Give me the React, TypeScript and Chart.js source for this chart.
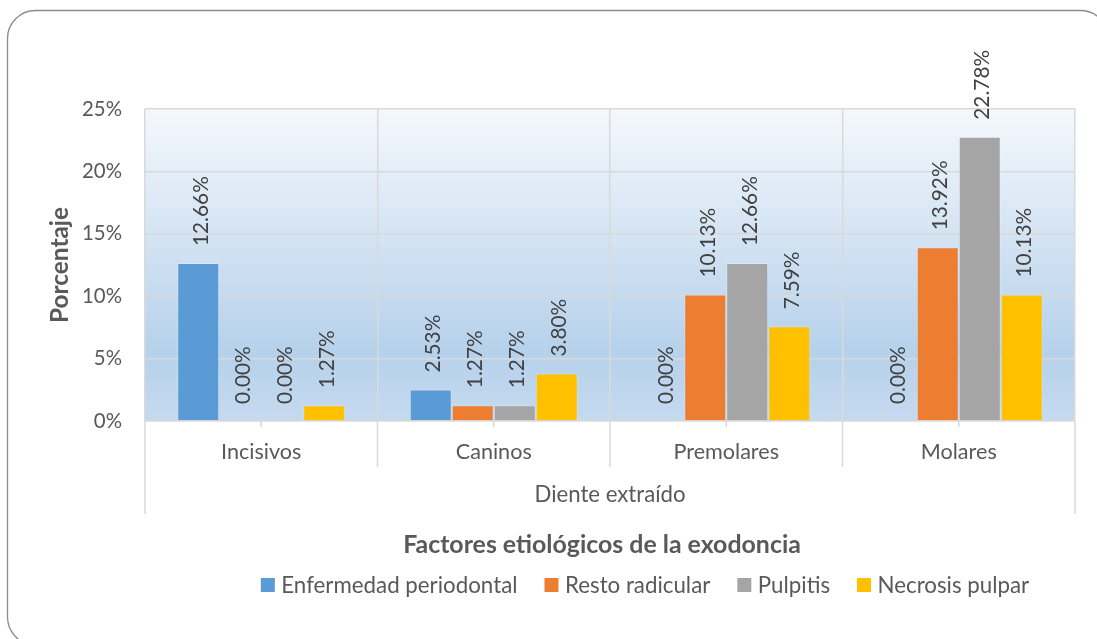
import React, { useEffect, useRef } from 'react';
import { Chart, registerables } from 'chart.js';

Chart.register(...registerables);

const categories = ['Incisivos', 'Caninos', 'Premolares', 'Molares'];
const seriesNames = ['Enfermedad periodontal', 'Resto radicular', 'Pulpitis', 'Necrosis pulpar'];
const enfermedadPeriodontal = [12.66, 2.53, 0.0, 0.0];
const restoRadicular = [0.0, 1.27, 10.13, 13.92];
const pulpitis = [0.0, 1.27, 12.66, 22.78];
const necrosisPulpar = [1.27, 3.8, 7.59, 10.13];
const yTicks = [0, 5, 10, 15, 20, 25];
const seriesColors = ['#5b9bd5', '#ed7d31', '#a5a5a5', '#ffc000'];
const chartTitle = 'Factores etiológicos de la exodoncia';
const xTitle = 'Diente extraído';
const yTitle = 'Porcentaje';

const FONT = 'Lato, "Open Sans", sans-serif';
const TEXT = '#595959';
const GRID = '#d9d9d9';

// font size so that `text` is drawn `target` px wide (reference measured widths)
function fitSize(text: string, target: number, weight = 'normal') {
  const c = document.createElement('canvas').getContext('2d') as CanvasRenderingContext2D;
  c.font = `${weight} 100px ${FONT}`;
  return Math.round(((100 * target) / c.measureText(text).width) * 10) / 10;
}

export default function App() {
  const ref = useRef<HTMLCanvasElement | null>(null);
  useEffect(() => {
    if (!ref.current) return;
    const labelSize = fitSize('12.66%', 70);
    const tickSize = fitSize('25%', 40);
    const catSize = fitSize(categories[0], 80.5);
    const xTitleSize = fitSize(xTitle, 151);
    const legendSize = fitSize(seriesNames[0], 236);
    const titleSize = fitSize(chartTitle, 398, 'bold');
    const yTitleSize = fitSize(yTitle, 116, 'bold');

    const decor = {
      id: 'decor',
      beforeDraw(chart: any) {
        const { ctx, chartArea: a } = chart;
        ctx.save();
        ctx.fillStyle = '#ffffff';
        ctx.fillRect(0, 0, chart.width, chart.height);
        ctx.strokeStyle = '#8c8c8c';
        ctx.lineWidth = 1.3;
        ctx.beginPath();
        ctx.roundRect(7.5, 10.5, 1101, 634.5, 28);
        ctx.stroke();
        const g = ctx.createLinearGradient(0, a.top, 0, a.bottom);
        g.addColorStop(0, '#f4f8fc');
        g.addColorStop(0.78, '#b6d1eb');
        g.addColorStop(1, '#c5daef');
        ctx.fillStyle = g;
        ctx.fillRect(a.left, a.top, a.right - a.left, a.bottom - a.top);
        ctx.restore();
      },
      afterDatasetsDraw(chart: any) {
        const { ctx } = chart;
        ctx.save();
        ctx.font = `${labelSize}px ${FONT}`;
        ctx.fillStyle = '#404040';
        ctx.textAlign = 'left';
        ctx.textBaseline = 'middle';
        chart.data.datasets.forEach((ds: any, di: number) => {
          const meta = chart.getDatasetMeta(di);
          meta.data.forEach((bar: any, i: number) => {
            const v = ds.data[i] as number;
            ctx.save();
            ctx.translate(bar.x + 3, bar.y - 17);
            ctx.rotate(-Math.PI / 2);
            ctx.fillText(v.toFixed(2) + '%', 0, 0);
            ctx.restore();
          });
        });
        ctx.restore();
      },
      afterDraw(chart: any) {
        const { ctx, chartArea: a } = chart;
        const xs = chart.scales.x;
        const n = chart.data.labels.length;
        const w = (xs.right - xs.left) / n;
        ctx.save();
        ctx.strokeStyle = GRID;
        ctx.lineWidth = 1.5;
        for (let i = 0; i <= n; i++) {
          const x = xs.left + i * w;
          const y2 = i === 0 || i === n ? xs.bottom : a.bottom + 46;
          ctx.beginPath();
          ctx.moveTo(x, a.bottom);
          ctx.lineTo(x, y2);
          ctx.stroke();
        }
        for (let i = 0; i < n; i++) {
          const x = xs.left + (i + 0.5) * w;
          ctx.beginPath();
          ctx.moveTo(x, a.bottom);
          ctx.lineTo(x, a.bottom + 6);
          ctx.stroke();
        }
        // title
        ctx.fillStyle = TEXT;
        ctx.font = `bold ${titleSize}px ${FONT}`;
        ctx.textAlign = 'center';
        ctx.textBaseline = 'middle';
        ctx.fillText(chartTitle, 602, 545);
        // legend
        ctx.font = `${legendSize}px ${FONT}`;
        ctx.textAlign = 'left';
        const items = chart.data.datasets.map((ds: any) => ({
          label: ds.label as string,
          color: ds.backgroundColor as string,
          w: ctx.measureText(ds.label).width,
        }));
        const box = 14;
        const gap = 6.5;
        const itemGap = 27;
        const total =
          items.reduce((s: number, it: any) => s + box + gap + it.w, 0) + itemGap * (items.length - 1);
        let x = 645 - total / 2;
        const cy = 585;
        items.forEach((it: any) => {
          ctx.fillStyle = it.color;
          ctx.fillRect(x, cy - box / 2, box, box);
          ctx.fillStyle = TEXT;
          ctx.fillText(it.label, x + box + gap, cy + 1);
          x += box + gap + it.w + itemGap;
        });
        ctx.restore();
      },
    };

    const seriesData = [enfermedadPeriodontal, restoRadicular, pulpitis, necrosisPulpar];
    const chart = new Chart(ref.current, {
      type: 'bar',
      data: {
        labels: categories,
        datasets: seriesNames.map((name, i) => ({
          label: name,
          data: seriesData[i],
          backgroundColor: seriesColors[i],
          borderColor: 'rgba(255,255,255,0.25)',
          borderWidth: 1,
          barPercentage: 1,
          categoryPercentage: 0.7226,
        })),
      },
      options: {
        animation: false,
        responsive: false,
        layout: { padding: { left: 0, right: 22, top: 109, bottom: 125 } },
        plugins: {
          legend: { display: false },
          title: { display: false },
          tooltip: { enabled: false },
        },
        scales: {
          x: {
            offset: true,
            grid: { offset: true, color: GRID, lineWidth: 1.5, drawTicks: false },
            border: { color: GRID, width: 1.5 },
            ticks: { color: TEXT, font: { family: FONT, size: catSize }, padding: 18 },
            title: {
              display: true,
              text: xTitle,
              color: TEXT,
              font: { family: FONT, size: xTitleSize },
              padding: { top: 0, bottom: 6 },
            },
            afterFit: (s: any) => {
              s.height = 93;
            },
          },
          y: {
            min: 0,
            max: 25,
            afterBuildTicks: (s: any) => {
              s.ticks = yTicks.map((v) => ({ value: v }));
            },
            ticks: {
              color: TEXT,
              font: { family: FONT, size: tickSize },
              padding: 23,
              callback: (v: any) => v + '%',
            },
            grid: { color: GRID, lineWidth: 1.5, drawTicks: false },
            border: { display: false },
            title: {
              display: true,
              text: yTitle,
              color: TEXT,
              font: { family: FONT, size: yTitleSize, weight: 'bold' },
              padding: { top: 46, bottom: 0 },
            },
            afterFit: (s: any) => {
              s.width = 145;
            },
          },
        },
      },
      plugins: [decor],
    });
    return () => chart.destroy();
  }, []);
  return (
    <div style={{ position: 'fixed', left: 0, top: 0, width: 1097, height: 639, background: '#fff' }}>
      <canvas ref={ref} width={1097} height={639} style={{ display: 'block' }} />
    </div>
  );
}
